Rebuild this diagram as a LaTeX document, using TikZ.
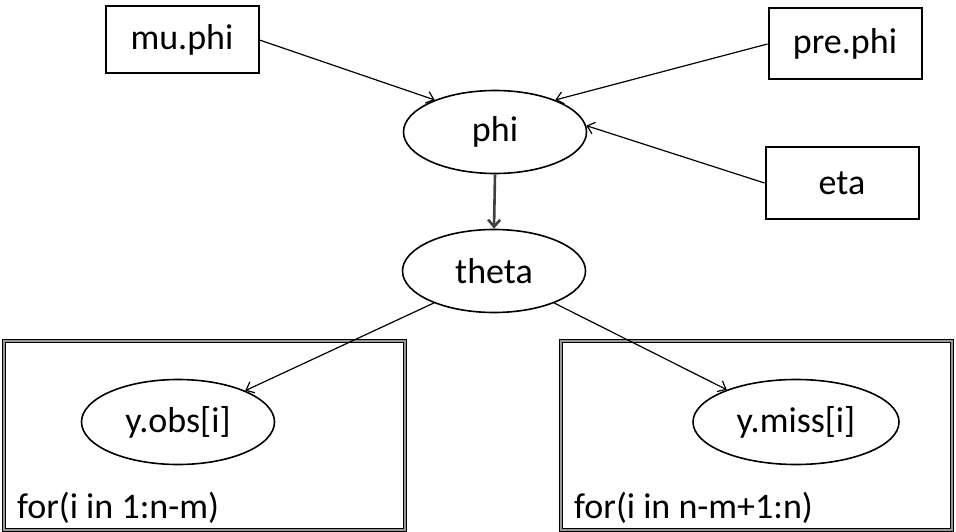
\documentclass[tikz,border=0pt]{standalone}
\usepackage{fontspec}
\setmainfont{Carlito}
\usepackage{tikz}
\usetikzlibrary{shapes,arrows.meta}
\definecolor{darkgray}{rgb}{0.25, 0.25, 0.25}
\definecolor{plategray}{rgb}{0.6, 0.6, 0.6}

\begin{document}
\begin{tikzpicture}[x=1pt,y=-1pt,font=\fontsize{36}{42}\selectfont,
		box/.style={draw, line width=2pt, minimum width=153pt, minimum height=67pt},
		var/.style={draw, ellipse, line width=1.6pt, minimum width=183pt, minimum height=83pt},
		plate/.style={draw, line width=0.9pt, double=plategray, double distance=1.6pt},
		edge/.style={line width=1.2pt, -{Straight Barb[length=7pt,width=12pt]}}]
		\useasboundingbox (0,0) rectangle (956,532);
		\foreach \a/\b/\t in {4/405/{for(i in 1:n-m)}, 561/952/{for(i in n-m+1:n)}}{
			\draw[plate] (\a,341) rectangle (\b,530);
			\node[anchor=base west, inner sep=0pt] (for\a) at (\a+13,518) {\t};
		}
		\node[box] (muphi) at (182,40) {mu.phi};
		\node[box, minimum height=71pt] (prephi) at (845,44) {pre.phi};
		\node[box, minimum height=71pt] (eta) at (842,183) {eta};
		\node[var] (phi) at (495,132) {phi};
		\node[var] (theta) at (494,271) {theta};
		\node[var, minimum width=193pt, minimum height=85pt] (yobs) at (178,422) {y.obs[i]};
		\node[var, minimum width=206pt, minimum height=85pt] (ymiss) at (796,422) {y.miss[i]};
		\draw[edge] (muphi.east) -- (phi.152);
		\draw[edge] (prephi.west) -- (phi.28);
		\draw[edge] (eta.west) -- (phi.4);
		\draw[edge, line width=2.6pt, color=darkgray] (phi.south) -- (theta.north);
		\draw[edge] (theta.208) -- (yobs.25);
		\draw[edge] (theta.332) -- (ymiss.155);
\end{tikzpicture}
\end{document}
